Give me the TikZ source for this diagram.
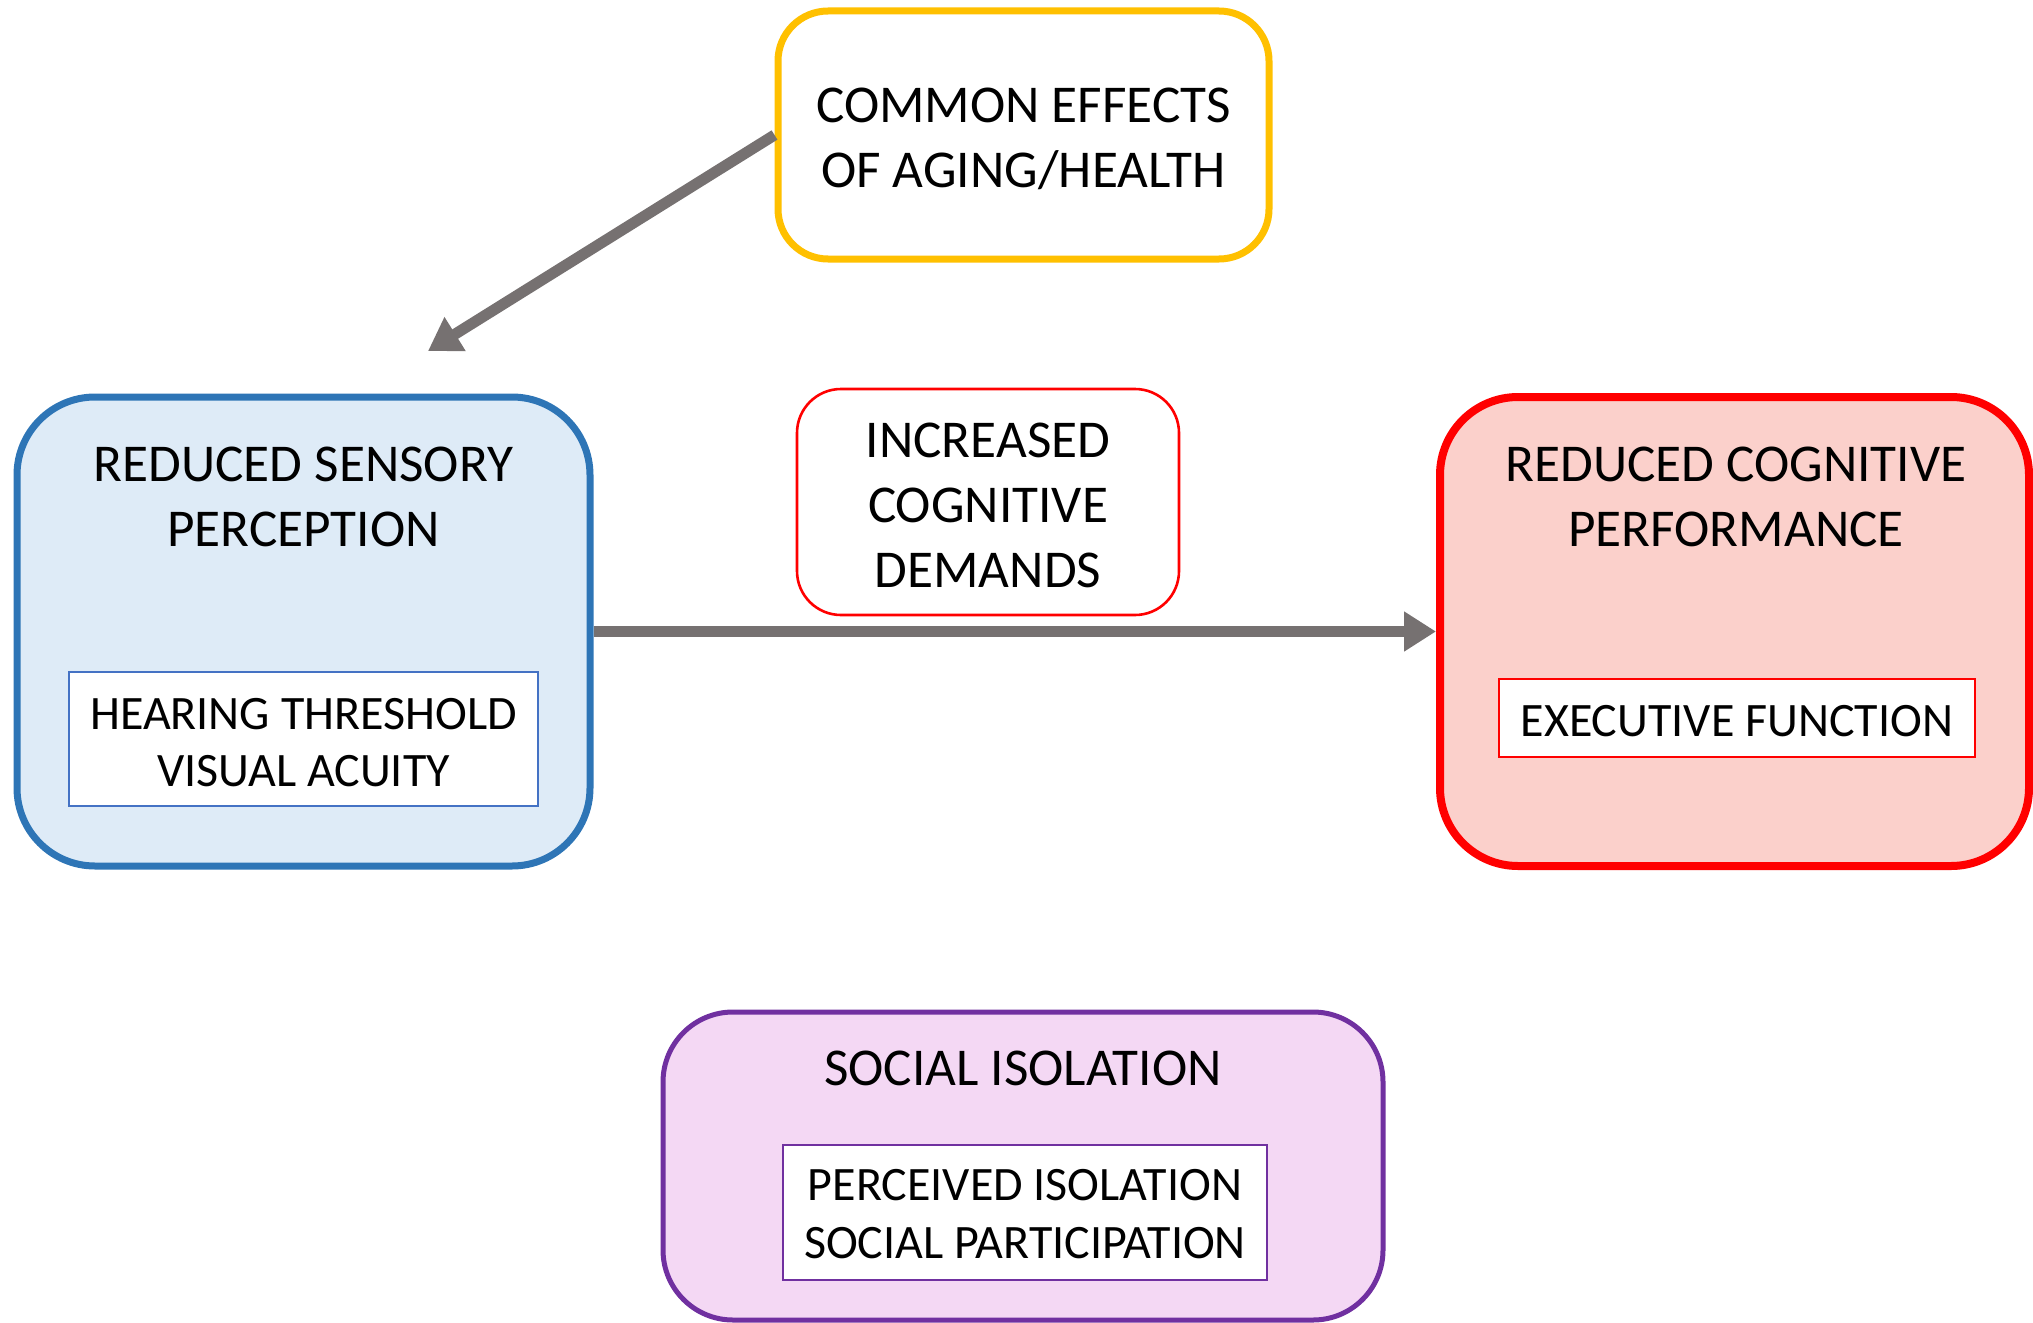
\documentclass[tikz,border=0pt]{standalone}
\usepackage{fontspec}
\setmainfont{Carlito}
\usetikzlibrary{arrows.meta}
\definecolor{arrowgray}{HTML}{767171}
\definecolor{yellowline}{HTML}{FFC000}
\definecolor{blueline}{HTML}{2E75B6}
\definecolor{bluefill}{HTML}{DEEBF7}
\definecolor{innerblue}{HTML}{4472C4}
\definecolor{redline}{HTML}{FF0000}
\definecolor{redfill}{HTML}{FBD0CB}
\definecolor{purpleline}{HTML}{7030A0}
\definecolor{purplefill}{HTML}{F4D8F4}
\tikzset{
  bigfont/.style={font=\fontsize{26.6}{32.5}\selectfont},
  smallfont/.style={font=\fontsize{24}{28.8}\selectfont},
  bigbox/.style={draw, rounded corners=#1, inner sep=0pt},
  innerbox/.style={draw, fill=white, line width=0.8pt, inner sep=0pt, align=center, smallfont},
  titletext/.style={align=center, bigfont, inner sep=0pt},
  connector/.style={draw=arrowgray, line width=5.5pt, -{Triangle[length=16pt,width=19pt]}}
}
\begin{document}
\begin{tikzpicture}[x=0.5pt,y=-0.5pt]
\useasboundingbox (0,0) rectangle (2033,1322);
% yellow box
\node[bigbox=25pt, draw=yellowline, line width=3.5pt, fill=white,
      minimum width=245.5pt, minimum height=124pt, align=center, bigfont]
      (aging) at (1023.5,135) {};
\node[titletext] (agingtext) at (1023.5,139) {COMMON EFFECTS\\OF AGING/HEALTH};
% blue box
\node[bigbox=39pt, draw=blueline, fill=bluefill, line width=3.5pt,
      minimum width=286.5pt, minimum height=234.5pt] (sensory) at (303.5,631.5) {};
\node[titletext] (sensorytitle) at (303.5,497) {REDUCED SENSORY\\PERCEPTION};
\node[innerbox, draw=innerblue, minimum width=234.5pt, minimum height=67pt]
      (sensoryinner) at (303.5,739) {};
\node[align=center, smallfont, inner sep=0pt] (sensorytext) at (303.5,742.5) {HEARING THRESHOLD\\VISUAL ACUITY};
% red box
\node[bigbox=39pt, draw=redline, fill=redfill, line width=4pt,
      minimum width=294.5pt, minimum height=234.5pt] (cognitive) at (1734.5,631.5) {};
\node[titletext] (cognitivetitle) at (1736,497) {REDUCED COGNITIVE\\PERFORMANCE};
\node[innerbox, draw=redline, minimum width=238pt, minimum height=39pt]
      (cognitiveinner) at (1737,718) {};
\node[smallfont, inner sep=0pt] (cognitivetext) at (1737,721) {EXECUTIVE FUNCTION};
% middle label
\node[bigbox=22pt, draw=redline, line width=1.3pt, fill=white,
      minimum width=191pt, minimum height=113pt] (demands) at (988,502) {};
\node[titletext] (demandstext) at (988,505) {INCREASED\\COGNITIVE\\DEMANDS};
% purple box
\node[bigbox=35pt, draw=purpleline, fill=purplefill, line width=2.5pt,
      minimum width=360pt, minimum height=154pt] (social) at (1023,1166) {};
\node[titletext] (socialtitle) at (1023,1068) {SOCIAL ISOLATION};
\node[innerbox, draw=purpleline, minimum width=242pt, minimum height=67.5pt]
      (socialinner) at (1025,1212.5) {};
\node[align=center, smallfont, inner sep=0pt] (socialtext) at (1025,1214) {PERCEIVED ISOLATION\\SOCIAL PARTICIPATION};
% connectors
\coordinate (diagtip) at (428,351);
\draw[connector] (aging.west) -- (diagtip);
\draw[connector] (sensory.east) -- (cognitive.west);
\end{tikzpicture}
\end{document}
